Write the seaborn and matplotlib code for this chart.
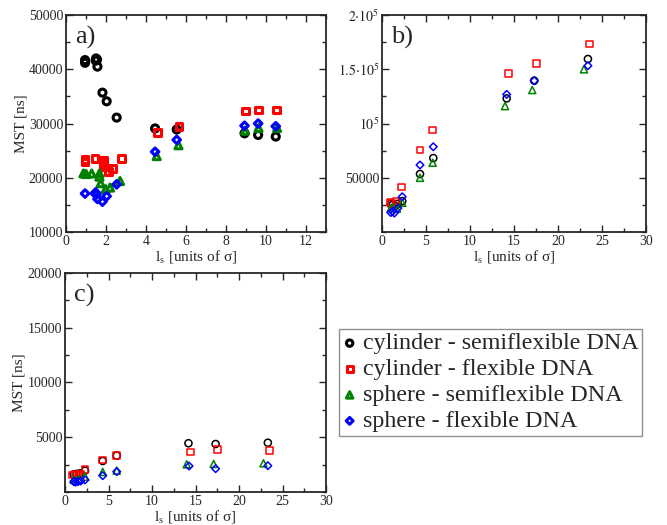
import matplotlib
matplotlib.use("Agg")
import matplotlib.pyplot as plt
import seaborn as sns
import pandas as pd
from matplotlib.ticker import MultipleLocator, FixedLocator, FixedFormatter

# ---------------- data ----------------
series_names = ["cylinder - semiflexible DNA", "cylinder - flexible DNA",
                "sphere - semiflexible DNA", "sphere - flexible DNA"]
series_colors = ["black", "red", "green", "blue"]
series_markers = ["o", "s", "^", "D"]

# panel a
a_cyl_semi_x = [0.95, 0.95, 0.95, 1.48, 1.5, 1.55, 1.57, 1.82, 2.03, 2.53, 4.45, 5.53, 8.92, 9.6, 10.48]
a_cyl_semi_y = [41200, 41500, 41700, 41600, 42000, 41800, 40500, 35700, 34100, 31100, 29100, 28900, 28200, 27900, 27600]
a_cyl_flex_x = [0.95, 0.95, 1.45, 1.87, 1.87, 1.87, 2.12, 2.32, 2.77, 4.58, 5.65, 8.98, 9.6, 10.5]
a_cyl_flex_y = [23400, 22900, 23500, 23300, 22700, 22000, 21100, 21700, 23600, 28400, 29500, 32300, 32500, 32500]
a_sph_semi_x = [0.87, 1.0, 1.28, 1.67, 1.67, 1.73, 1.98, 2.2, 2.7, 4.53, 5.62, 8.95, 9.62, 10.55]
a_sph_semi_y = [20800, 20700, 20800, 20800, 20200, 19000, 17900, 18200, 19400, 24000, 26000, 28700, 29200, 29200]
a_sph_flex_x = [0.95, 1.45, 1.48, 1.52, 1.57, 1.82, 2.03, 2.53, 4.45, 5.53, 8.92, 9.6, 10.48]
a_sph_flex_y = [17100, 17100, 17300, 16900, 16100, 15600, 16600, 18800, 24800, 27000, 29600, 30000, 29500]

# panel b
b_cyl_semi_x = [1.0, 1.2, 1.5, 1.8, 2.3, 4.32, 5.83, 14.17, 17.3, 23.4]
b_cyl_semi_y = [26000, 25000, 24000, 26000, 28500, 53500, 68200, 123200, 139500, 159500]
b_cyl_flex_x = [0.9, 1.1, 1.6, 2.25, 4.32, 5.76, 14.36, 17.58, 23.56]
b_cyl_flex_y = [27000, 26000, 28600, 41500, 75600, 94000, 146300, 155500, 173300]
b_sph_semi_x = [1.0, 1.3, 1.7, 2.3, 4.32, 5.76, 13.98, 17.08, 22.95]
b_sph_semi_y = [22000, 22500, 21500, 27000, 50000, 63900, 116100, 130900, 150000]
b_sph_flex_x = [1.0, 1.2, 1.4, 1.8, 2.3, 4.32, 5.83, 14.17, 17.3, 23.4]
b_sph_flex_y = [18000, 19000, 17500, 22000, 32500, 61800, 78600, 126900, 139500, 153300]

# panel c
c_cyl_semi_x = [1.0, 1.3, 1.7, 2.3, 4.33, 5.94, 14.18, 17.3, 23.3]
c_cyl_semi_y = [1600, 1650, 1700, 1950, 2830, 3320, 4450, 4380, 4500]
c_cyl_flex_x = [0.9, 1.2, 1.5, 1.8, 2.3, 4.33, 5.94, 14.37, 17.5, 23.5]
c_cyl_flex_y = [1550, 1600, 1550, 1600, 2050, 2920, 3320, 3650, 3900, 3770]
c_sph_semi_x = [1.0, 1.3, 1.6, 2.3, 4.33, 5.94, 13.98, 17.08, 22.8]
c_sph_semi_y = [1100, 1050, 1150, 1400, 1830, 1950, 2530, 2560, 2620]
c_sph_flex_x = [1.0, 1.2, 1.5, 1.8, 2.3, 4.33, 5.94, 14.25, 17.3, 23.3]
c_sph_flex_y = [950, 900, 950, 1000, 1100, 1490, 1860, 2370, 2130, 2400]

panel_data = {
    "a": [(a_cyl_semi_x, a_cyl_semi_y), (a_cyl_flex_x, a_cyl_flex_y),
          (a_sph_semi_x, a_sph_semi_y), (a_sph_flex_x, a_sph_flex_y)],
    "b": [(b_cyl_semi_x, b_cyl_semi_y), (b_cyl_flex_x, b_cyl_flex_y),
          (b_sph_semi_x, b_sph_semi_y), (b_sph_flex_x, b_sph_flex_y)],
    "c": [(c_cyl_semi_x, c_cyl_semi_y), (c_cyl_flex_x, c_cyl_flex_y),
          (c_sph_semi_x, c_sph_semi_y), (c_sph_flex_x, c_sph_flex_y)],
}

b_ytick_values = [50000, 100000, 150000, 200000]
b_ytick_labels = ["50000", r"$10^5$", r"$1.5{\cdot}10^5$", r"$2{\cdot}10^5$"]

# ---------------- style ----------------
sns.set_theme(style="ticks")
plt.rcParams["font.family"] = ["Liberation Serif", "DejaVu Serif"]
plt.rcParams["mathtext.fontset"] = "stix"
plt.rcParams["axes.linewidth"] = 1.3

fig = plt.figure(figsize=(6.67, 5.25), dpi=100)
ax_a = fig.add_axes([0.099, 0.558, 0.390, 0.4133])
ax_b = fig.add_axes([0.5727, 0.558, 0.3958, 0.4133])
ax_c = fig.add_axes([0.0975, 0.0629, 0.3915, 0.4171])

marker_sizes = {"o": 26, "s": 24, "^": 26, "D": 15}

def draw(ax, key):
    rows = []
    for name, (xs, ys) in zip(series_names, panel_data[key]):
        for x, y in zip(xs, ys):
            rows.append({"x": x, "y": y, "series": name})
    df = pd.DataFrame(rows)
    for name, col, mk in zip(series_names, series_colors, series_markers):
        sub = df[df["series"] == name]
        sns.scatterplot(data=sub, x="x", y="y", ax=ax, marker=mk,
                        s=marker_sizes[mk], facecolor="none", edgecolor=col,
                        linewidth=1.1, label=name, legend=False)

for ax, key in [(ax_a, "a"), (ax_b, "b"), (ax_c, "c")]:
    draw(ax, key)
    ax.tick_params(which="both", direction="in", top=True, right=True,
                   labelsize=10, pad=2, width=1.0)
    ax.tick_params(which="major", length=5)
    ax.tick_params(which="minor", length=3)
    ax.set_xlabel(r"l$_\mathrm{s}$ [units of σ]", fontsize=11)
    ax.set_ylabel("")

# panel a
ax_a.set_xlim(0, 13)
ax_a.set_ylim(10000, 50000)
ax_a.xaxis.set_major_locator(MultipleLocator(2))
ax_a.xaxis.set_minor_locator(MultipleLocator(1))
ax_a.yaxis.set_major_locator(MultipleLocator(10000))
ax_a.yaxis.set_minor_locator(MultipleLocator(5000))
ax_a.set_ylabel("MST [ns]", fontsize=11)
ax_a.yaxis.set_label_coords(-0.15, 0.5)
ax_a.xaxis.set_label_coords(0.5, -0.075)
ax_a.text(0.035, 0.95, "a)", transform=ax_a.transAxes, fontsize=19, va="top", ha="left")

# panel b
ax_b.set_xlim(0, 30)
ax_b.set_ylim(0, 200000)
ax_b.xaxis.set_major_locator(MultipleLocator(5))
ax_b.xaxis.set_minor_locator(MultipleLocator(2.5))
ax_b.yaxis.set_major_locator(FixedLocator(b_ytick_values))
ax_b.yaxis.set_major_formatter(FixedFormatter(b_ytick_labels))
ax_b.yaxis.set_minor_locator(MultipleLocator(25000))
ax_b.xaxis.set_label_coords(0.5, -0.075)
ax_b.text(0.035, 0.95, "b)", transform=ax_b.transAxes, fontsize=19, va="top", ha="left")

# panel c
ax_c.set_xlim(0, 30)
ax_c.set_ylim(0, 20000)
ax_c.xaxis.set_major_locator(MultipleLocator(5))
ax_c.xaxis.set_minor_locator(MultipleLocator(2.5))
ax_c.yaxis.set_major_locator(FixedLocator([5000, 10000, 15000, 20000]))
ax_c.yaxis.set_minor_locator(MultipleLocator(2500))
ax_c.set_ylabel("MST [ns]", fontsize=11)
ax_c.yaxis.set_label_coords(-0.15, 0.5)
ax_c.xaxis.set_label_coords(0.5, -0.075)
ax_c.text(0.035, 0.95, "c)", transform=ax_c.transAxes, fontsize=19, va="top", ha="left")

handles, labels = ax_a.get_legend_handles_labels()
for h in handles:
    h.set_linewidth(2.2)
leg = fig.legend(handles, labels, loc="upper left", bbox_to_anchor=(0.508, 0.3733),
                 fontsize=17.3, frameon=True, fancybox=False, edgecolor="0.45",
                 handletextpad=0.25, labelspacing=0.17, borderpad=0.15,
                 handlelength=0.6, markerscale=0.9, borderaxespad=0)
leg.get_frame().set_linewidth(1.0)

fig.savefig("out.png", dpi=100)
